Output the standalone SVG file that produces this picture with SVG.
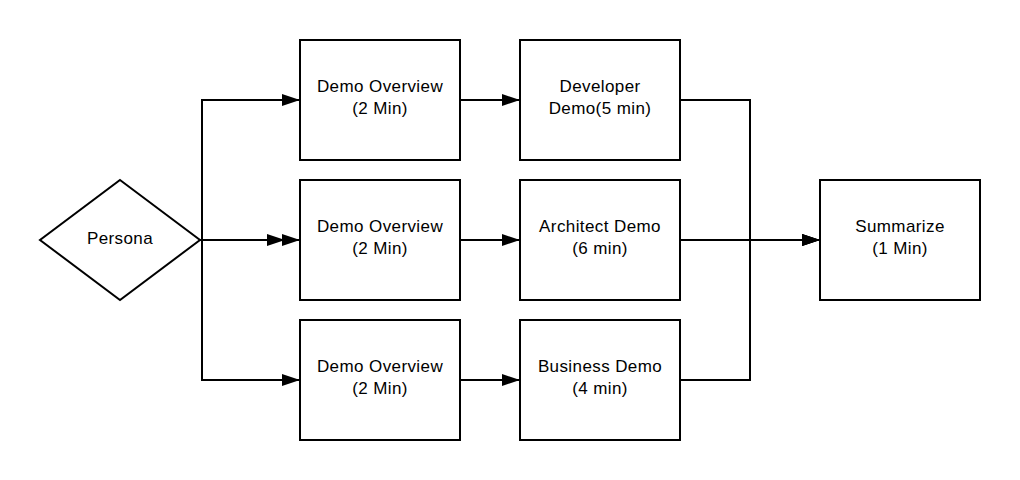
<svg xmlns="http://www.w3.org/2000/svg" width="1020" height="480" viewBox="0 0 1020 480">
<defs>
<marker id="ah" markerWidth="18" markerHeight="12" refX="18" refY="6" orient="auto" markerUnits="userSpaceOnUse">
<path d="M0,0 L18,6 L0,12 Z" fill="#000"/>
</marker>
<style>
.box{fill:#fff;stroke:#000;stroke-width:2}
.ln{fill:none;stroke:#000;stroke-width:2}
text{font-family:"Liberation Sans",Arial,sans-serif;font-size:17px;letter-spacing:0.4px;fill:#000;text-anchor:middle}
</style>
</defs>
<rect width="1020" height="480" fill="#fff"/>
<g id="connectors">
<path class="ln" d="M200,240 H202 V100 H300" marker-end="url(#ah)"/>
<path class="ln" d="M202,240 H285" marker-end="url(#ah)"/>
<path class="ln" d="M202,240 H300" marker-end="url(#ah)"/>
<path class="ln" d="M202,240 V380 H300" marker-end="url(#ah)"/>
<path class="ln" d="M460,100 H520" marker-end="url(#ah)"/>
<path class="ln" d="M460,240 H520" marker-end="url(#ah)"/>
<path class="ln" d="M460,380 H520" marker-end="url(#ah)"/>
<path class="ln" d="M680,100 H750 V240 H820" marker-end="url(#ah)"/>
<path class="ln" d="M680,240 H820" marker-end="url(#ah)"/>
<path class="ln" d="M680,380 H750 V240 H820" marker-end="url(#ah)"/>
</g>
<g id="persona">
<polygon class="box" points="120,180 200,240 120,300 40,240"/>
<text x="120" y="244">Persona</text>
</g>
<g id="overview1">
<rect class="box" x="300" y="40" width="160" height="120"/>
<text x="380" y="92">Demo Overview</text>
<text x="380" y="114">(2 Min)</text>
</g>
<g id="overview2">
<rect class="box" x="300" y="180" width="160" height="120"/>
<text x="380" y="232">Demo Overview</text>
<text x="380" y="254">(2 Min)</text>
</g>
<g id="overview3">
<rect class="box" x="300" y="320" width="160" height="120"/>
<text x="380" y="372">Demo Overview</text>
<text x="380" y="394">(2 Min)</text>
</g>
<g id="developer">
<rect class="box" x="520" y="40" width="160" height="120"/>
<text x="600" y="92">Developer</text>
<text x="600" y="114">Demo(5 min)</text>
</g>
<g id="architect">
<rect class="box" x="520" y="180" width="160" height="120"/>
<text x="600" y="232">Architect Demo</text>
<text x="600" y="254">(6 min)</text>
</g>
<g id="business">
<rect class="box" x="520" y="320" width="160" height="120"/>
<text x="600" y="372">Business Demo</text>
<text x="600" y="394">(4 min)</text>
</g>
<g id="summarize">
<rect class="box" x="820" y="180" width="160" height="120"/>
<text x="900" y="232">Summarize</text>
<text x="900" y="254">(1 Min)</text>
</g>
</svg>
